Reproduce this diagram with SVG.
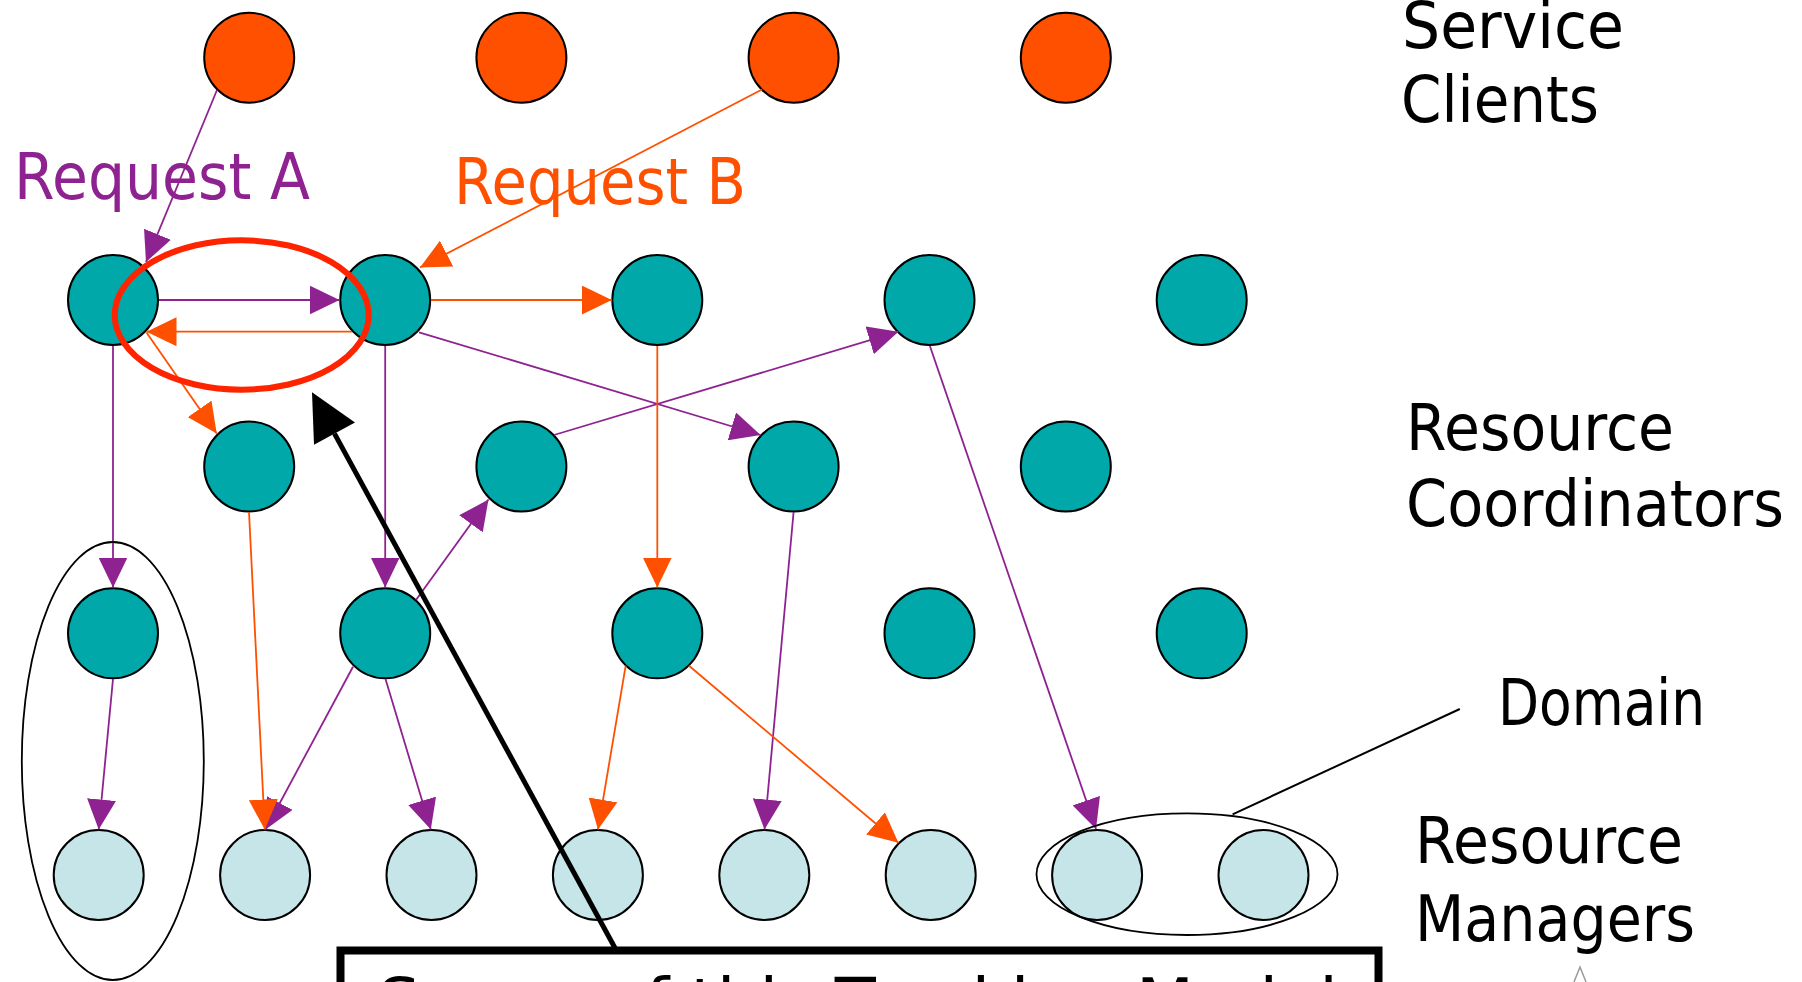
<svg xmlns="http://www.w3.org/2000/svg" width="1802" height="982" viewBox="0 0 1802 982">
<style>
.client{fill:#FF5000;stroke:#000;stroke-width:2}
.coord{fill:#00A8A9;stroke:#000;stroke-width:2}
.rm{fill:#C5E5E8;stroke:#000;stroke-width:2}
.pa{stroke:#8E2290;stroke-width:1.8;fill:none;marker-end:url(#ap)}
.oa{stroke:#FF5000;stroke-width:1.8;fill:none;marker-end:url(#ao)}
.lbl{font-family:'DejaVu Sans',sans-serif;font-size:64px;fill:#000}
.grp{fill:none;stroke:#000;stroke-width:1.8}
</style>
<defs>
<marker id="ap" markerUnits="userSpaceOnUse" markerWidth="30" markerHeight="29" refX="30" refY="14.5" orient="auto" viewBox="0 0 30 29"><path d="M0,0 L30,14.5 L0,29 Z" fill="#8E2290"/></marker>
<marker id="ao" markerUnits="userSpaceOnUse" markerWidth="30" markerHeight="29" refX="30" refY="14.5" orient="auto" viewBox="0 0 30 29"><path d="M0,0 L30,14.5 L0,29 Z" fill="#FF5000"/></marker>
</defs>
<rect width="1802" height="982" fill="#fff"/>
<g id="clients">
<g id="client1"><circle class="client" cx="249.2" cy="57.7" r="45"/></g>
<g id="client2"><circle class="client" cx="521.4" cy="57.7" r="45"/></g>
<g id="client3"><circle class="client" cx="793.6" cy="57.7" r="45"/></g>
<g id="client4"><circle class="client" cx="1065.8" cy="57.7" r="45"/></g>
</g>
<g id="coordinators">
<g id="rc1"><circle class="coord" cx="113" cy="300" r="45"/></g>
<g id="rc2"><circle class="coord" cx="385.2" cy="300" r="45"/></g>
<g id="rc3"><circle class="coord" cx="657.3" cy="300" r="45"/></g>
<g id="rc4"><circle class="coord" cx="929.5" cy="300" r="45"/></g>
<g id="rc5"><circle class="coord" cx="1201.7" cy="300" r="45"/></g>
<g id="rc6"><circle class="coord" cx="249.2" cy="466.5" r="45"/></g>
<g id="rc7"><circle class="coord" cx="521.4" cy="466.5" r="45"/></g>
<g id="rc8"><circle class="coord" cx="793.6" cy="466.5" r="45"/></g>
<g id="rc9"><circle class="coord" cx="1065.8" cy="466.5" r="45"/></g>
<g id="rc10"><circle class="coord" cx="113" cy="633.3" r="45"/></g>
<g id="rc11"><circle class="coord" cx="385.2" cy="633.3" r="45"/></g>
<g id="rc12"><circle class="coord" cx="657.3" cy="633.3" r="45"/></g>
<g id="rc13"><circle class="coord" cx="929.5" cy="633.3" r="45"/></g>
<g id="rc14"><circle class="coord" cx="1201.7" cy="633.3" r="45"/></g>
</g>
<g id="managers">
<g id="rm1"><circle class="rm" cx="98.7" cy="875" r="45"/></g>
<g id="rm2"><circle class="rm" cx="265.1" cy="875" r="45"/></g>
<g id="rm3"><circle class="rm" cx="431.5" cy="875" r="45"/></g>
<g id="rm4"><circle class="rm" cx="597.9" cy="875" r="45"/></g>
<g id="rm5"><circle class="rm" cx="764.3" cy="875" r="45"/></g>
<g id="rm6"><circle class="rm" cx="930.7" cy="875" r="45"/></g>
<g id="rm7"><circle class="rm" cx="1097.1" cy="875" r="45"/></g>
<g id="rm8"><circle class="rm" cx="1263.5" cy="875" r="45"/></g>
</g>
<g id="connectors">
<line class="pa" x1="217" y1="90" x2="146" y2="262"/>
<line class="pa" x1="159" y1="300" x2="339.5" y2="300"/>
<line class="oa" x1="352" y1="331.7" x2="146.5" y2="331.7"/>
<line class="oa" x1="762" y1="89.5" x2="420" y2="267.5"/>
<line class="oa" x1="431" y1="300" x2="611.8" y2="300"/>
<line class="oa" x1="146.5" y1="332.5" x2="216.7" y2="433.5"/>
<line class="pa" x1="419" y1="332.3" x2="760.6" y2="435"/>
<line class="pa" x1="554" y1="435" x2="898.4" y2="331.7"/>
<line class="pa" x1="113" y1="346" x2="113" y2="587.5"/>
<line class="pa" x1="385.2" y1="346" x2="385.2" y2="587.5"/>
<line class="oa" x1="657.3" y1="346" x2="657.3" y2="587.5"/>
<line class="pa" x1="929.9" y1="346" x2="1096" y2="829"/>
<line class="pa" x1="416" y1="600" x2="488.5" y2="499.5"/>
<line class="pa" x1="113" y1="679" x2="98.7" y2="829.5"/>
<line class="pa" x1="353" y1="666.7" x2="265.6" y2="829.5"/>
<line class="oa" x1="249" y1="512" x2="264.8" y2="829.5"/>
<line class="pa" x1="385.5" y1="679" x2="430.8" y2="829.5"/>
<line class="oa" x1="625.7" y1="665.7" x2="598" y2="829.5"/>
<line class="pa" x1="793.6" y1="512" x2="764.5" y2="829.5"/>
<line class="oa" x1="689" y1="665.7" x2="898.4" y2="842.8"/>
<line x1="1232.6" y1="814.3" x2="1459.8" y2="709" stroke="#000" stroke-width="2"/>
</g>
<g id="domain-left"><ellipse class="grp" cx="112.8" cy="761" rx="91" ry="219"/></g>
<g id="domain-right"><ellipse class="grp" cx="1187" cy="874.2" rx="150.5" ry="60.8"/></g>
<g id="highlight"><ellipse cx="241.7" cy="315" rx="127" ry="74.7" fill="none" stroke="#FF2400" stroke-width="6"/></g>
<g id="scope-arrow">
<line x1="615" y1="948" x2="334.5" y2="433.6" stroke="#000" stroke-width="5"/>
<polygon points="312,392.3 355,422.4 314,444.8" fill="#000"/>
</g>
<g id="scope-box">
<rect x="340.5" y="950.5" width="1038" height="200" fill="#fff" stroke="#000" stroke-width="8"/>
<text class="lbl" x="378" y="1024" textLength="960" lengthAdjust="spacingAndGlyphs">Scope of this Tracking Model</text>
</g>
<path d="M1574,982 L1580,967 L1586,982" fill="none" stroke="#9a9a9a" stroke-width="1.5"/>
<g id="labels">
<text class="lbl" x="1402" y="48" textLength="222" lengthAdjust="spacingAndGlyphs">Service</text>
<text class="lbl" x="1401" y="122" textLength="198" lengthAdjust="spacingAndGlyphs">Clients</text>
<text class="lbl" x="1406" y="450" textLength="268" lengthAdjust="spacingAndGlyphs">Resource</text>
<text class="lbl" x="1406" y="526" textLength="378" lengthAdjust="spacingAndGlyphs">Coordinators</text>
<text class="lbl" x="1498" y="725" textLength="207" lengthAdjust="spacingAndGlyphs">Domain</text>
<text class="lbl" x="1415" y="863" textLength="268" lengthAdjust="spacingAndGlyphs">Resource</text>
<text class="lbl" x="1415" y="941" textLength="280" lengthAdjust="spacingAndGlyphs">Managers</text>
<text class="lbl" x="14" y="199" textLength="296" lengthAdjust="spacingAndGlyphs" style="fill:#8E2290">Request A</text>
<text class="lbl" x="454" y="204" textLength="292" lengthAdjust="spacingAndGlyphs" style="fill:#FF5000">Request B</text>
</g>
</svg>
